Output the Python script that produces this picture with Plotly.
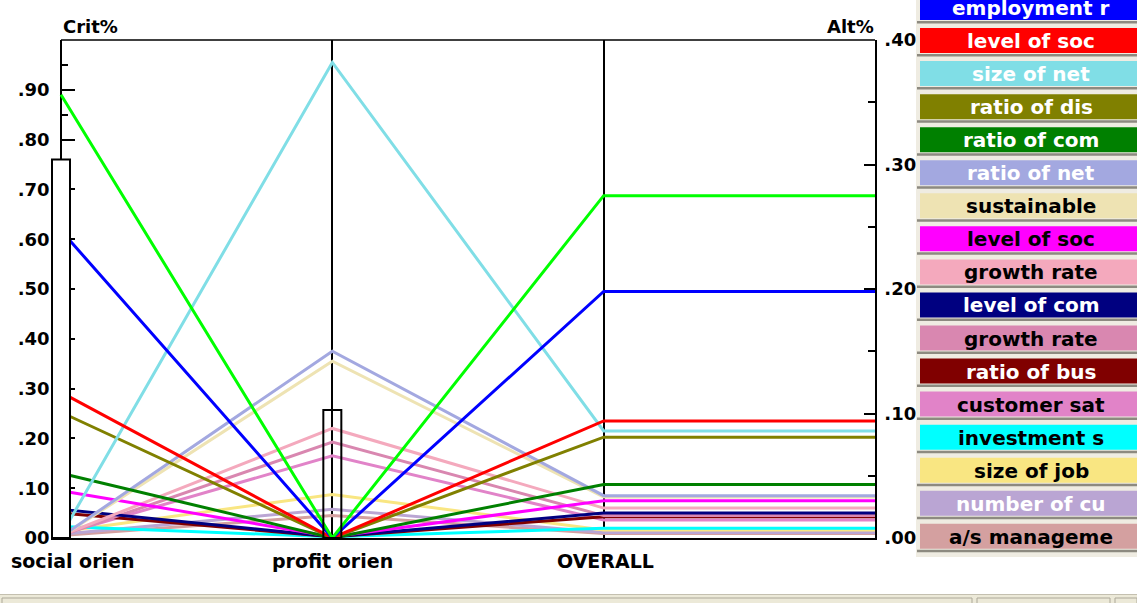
import plotly.graph_objects as go

# ---------------- data ----------------
criteria = ["social orien", "profit orien", "OVERALL"]
crit_weights = [0.76, 0.257]          # Crit% bars at the two criteria axes

alt_names = ["", "employment r", "level of soc", "size of net", "ratio of dis",
             "ratio of com", "ratio of net", "sustainable", "level of soc",
             "growth rate", "level of com", "growth rate", "ratio of bus",
             "customer sat", "investment s", "size of job", "number of cu",
             "a/s manageme"]
social = [0.356, 0.247, 0.117, 0.002, 0.101, 0.052, 0.001, 0.001, 0.038,
          0.002, 0.023, 0.002, 0.020, 0.003, 0.0092, 0.005, 0.003, 0.002]
profit = [0.0, 0.0, 0.0, 0.382, 0.0, 0.0, 0.150, 0.142, 0.001,
          0.088, 0.001, 0.077, 0.001, 0.066, 0.001, 0.035, 0.023, 0.018]
overall = [0.275, 0.198, 0.094, 0.086, 0.081, 0.043, 0.034, 0.033, 0.030,
           0.024, 0.020, 0.018, 0.017, 0.0145, 0.0078, 0.0064, 0.0044, 0.0036]
colors = ["#00ff00", "#0000ff", "#ff0000", "#80dee6", "#808000", "#008000",
          "#a3a8e0", "#eee3b3", "#ff00ff", "#f4a9bd", "#000080", "#d987b0",
          "#800000", "#e183c8", "#00ffff", "#f9e682", "#baa5d3", "#d4a0a0"]
text_colors = ["white", "white", "white", "white", "white", "white", "white",
               "black", "black", "black", "white", "black", "white", "black",
               "black", "black", "white", "black"]

crit_ticks = [0, .1, .2, .3, .4, .5, .6, .7, .8, .9]
crit_ticktext = ["00", ".10", ".20", ".30", ".40", ".50", ".60", ".70", ".80", ".90"]
alt_ticks = [0, .1, .2, .3, .4]
alt_ticktext = [".00", ".10", ".20", ".30", ".40"]

# ---------------- geometry helpers (pixels -> paper) ----------------
W, H = 1137, 603
AX0 = 61                 # pixel of the first criterion axis
L, R, T, B = 51, 875, 40, 538
UNIT = (R - AX0) / 3.0   # pixels per criterion step
XMIN = -(AX0 - L) / UNIT


def px(X):
    return (X - L) / (R - L)


def py(Y):
    return (B - Y) / (B - T)


FONT = "DejaVu Sans"
fig = go.Figure()

# lines (alternatives), smallest first so the leaders are on top
xs = [0, 1, 2, 3]
for i in reversed(range(len(alt_names))):
    fig.add_trace(go.Scatter(
        x=xs, y=[social[i], profit[i], overall[i], overall[i]],
        mode="lines", line=dict(color=colors[i], width=3),
        hoverinfo="skip", showlegend=False, yaxis="y"))

# criteria bars (Crit% scale)
BW = 18 / UNIT
fig.add_trace(go.Bar(x=[1], y=[crit_weights[1]], width=BW, yaxis="y2",
                     marker=dict(color="rgba(0,0,0,0)", line=dict(color="black", width=2)),
                     showlegend=False, hoverinfo="skip"))
fig.add_trace(go.Bar(x=[0], y=[crit_weights[0]], width=BW, yaxis="y2",
                     marker=dict(color="white", line=dict(color="black", width=2)),
                     showlegend=False, hoverinfo="skip"))

tickfont = dict(family=FONT, size=18, color="black", weight="bold")

shapes = []
annotations = []

# top frame line (from first criterion axis to the right axis)
shapes.append(dict(type="line", xref="paper", yref="paper", x0=px(AX0), x1=px(R),
                   y0=1, y1=1, line=dict(color="black", width=1.5)))

# axis titles / criteria labels
annotations.append(dict(text="Crit%", x=px(61), y=py(27), xref="paper", yref="paper",
                        xanchor="left", yanchor="middle", showarrow=False, font=tickfont))
annotations.append(dict(text="Alt%", x=px(876), y=py(27), xref="paper", yref="paper",
                        xanchor="right", yanchor="middle", showarrow=False, font=tickfont))
label_x = [72, 332, 605]
for c, lx in zip(criteria, label_x):
    annotations.append(dict(text=c, x=px(lx), y=py(561), xref="paper", yref="paper",
                            xanchor="center", yanchor="middle", showarrow=False,
                            font=dict(family=FONT, size=19, color="black", weight="bold")))

# legend column
shapes.append(dict(type="rect", xref="paper", yref="paper", x0=px(916), x1=px(1140),
                   y0=py(-2), y1=py(557), fillcolor="#efece2", line=dict(width=0), layer="above"))
for k in range(1, len(alt_names)):
    top = -5 + 33.05 * (k - 1)
    bot = top + 25
    shapes.append(dict(type="rect", xref="paper", yref="paper", x0=px(917), x1=px(1140),
                       y0=py(bot + 1), y1=py(bot + 3.5), fillcolor="#8d8a80",
                       line=dict(width=0), layer="above"))
    shapes.append(dict(type="rect", xref="paper", yref="paper", x0=px(920), x1=px(1145),
                       y0=py(bot), y1=py(top), fillcolor=colors[k],
                       line=dict(width=0), layer="above"))
    annotations.append(dict(text=alt_names[k], x=px(1031), y=py((top + bot) / 2 + 0.5),
                            xref="paper", yref="paper", xanchor="center", yanchor="middle",
                            showarrow=False,
                            font=dict(family=FONT, size=20, color=text_colors[k], weight="bold")))

# status bar
shapes.append(dict(type="rect", xref="paper", yref="paper", x0=px(-5), x1=px(1142),
                   y0=py(606), y1=py(594), fillcolor="#ece9d8",
                   line=dict(width=0), layer="above"))
shapes.append(dict(type="line", xref="paper", yref="paper", x0=px(0), x1=px(1137),
                   y0=py(594.5), y1=py(594.5), line=dict(color="#c4c0b0", width=1), layer="above"))
for a, b in [(2, 972), (977, 1110), (1115, 1137)]:
    shapes.append(dict(type="rect", xref="paper", yref="paper", x0=px(a), x1=px(b),
                       y0=py(606), y1=py(598), fillcolor="rgba(0,0,0,0)",
                       line=dict(color="#aca899", width=1), layer="above"))

fig.update_layout(
    width=W, height=H, autosize=False,
    margin=dict(l=L, r=W - R, t=T, b=H - B, pad=0),
    paper_bgcolor="white", plot_bgcolor="white",
    barmode="overlay", showlegend=False,
    xaxis=dict(range=[XMIN, 3], tickvals=[0, 1, 2, 3], showticklabels=False, ticks="",
               showgrid=True, gridcolor="black", gridwidth=1.5, zeroline=False,
               showline=True, mirror=False, linecolor="black", linewidth=1.5, fixedrange=True),
    yaxis=dict(range=[0, 0.4], side="right", showgrid=False, zeroline=False,
               tickvals=alt_ticks, ticktext=alt_ticktext, ticks="inside", ticklen=11,
               tickcolor="black", tickwidth=2, tickfont=tickfont, ticklabelstandoff=4,
               minor=dict(ticks="inside", ticklen=7, dtick=0.05, tick0=0,
                          tickcolor="black", tickwidth=2),
               showline=True, linecolor="black", linewidth=1.5, fixedrange=True),
    yaxis2=dict(range=[0, 1], overlaying="y", side="left", anchor="free",
                position=px(AX0), showgrid=False, zeroline=False,
                tickvals=crit_ticks, ticktext=crit_ticktext, ticks="inside", ticklen=13,
                tickcolor="black", tickwidth=2, tickfont=tickfont, ticklabelstandoff=7,
                minor=dict(ticks="inside", ticklen=6, dtick=0.05, tick0=0,
                           tickcolor="black", tickwidth=2),
                showline=True, linecolor="black", linewidth=1.5, fixedrange=True,
                layer="below traces"),
    shapes=shapes, annotations=annotations,
)

fig.write_html("out.html", config={"displayModeBar": False},
               post_script="document.body.style.margin='0';document.body.style.overflow='hidden';")
